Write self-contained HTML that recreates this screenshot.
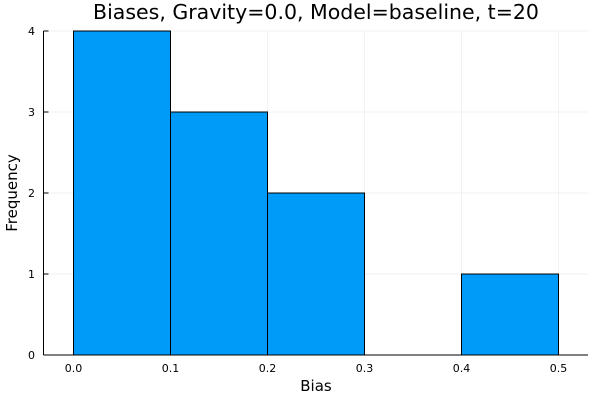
<!DOCTYPE html>
<html><head><meta charset="utf-8"><style>
body{margin:0;background:#fff}
svg{display:block;font-family:"DejaVu Sans","Liberation Sans",sans-serif}
</style></head><body>
<svg id="c" width="600" height="400">
<text x="316" y="19" font-size="20.5" text-anchor="middle" fill="#000">Biases, Gravity=0.0, Model=baseline, t=20</text>
<g id="grid"></g><g id="bars"></g><g id="axes"></g>
<text x="316" y="391" font-size="15" text-anchor="middle">Bias</text>
<text transform="translate(17,193) rotate(-90)" font-size="15" text-anchor="middle">Frequency</text>
</svg>
<script>
const binEdges=[0.0,0.1,0.2,0.3,0.4,0.5];
const counts=[4,3,2,0,1];
const xTicks=[0.0,0.1,0.2,0.3,0.4,0.5];
const xTickLabels=["0.0","0.1","0.2","0.3","0.4","0.5"];
const yTicks=[0,1,2,3,4];
const L=43.5,R=588,T=31,B=355;
const sx=v=>73.5+v*970;
const sy=v=>B-v*81;
const NS="http://www.w3.org/2000/svg";
function mk(p,t,a){const e=document.createElementNS(NS,t);for(const k in a)e.setAttribute(k,a[k]);p.appendChild(e);return e;}
const g=document.getElementById('grid'),b=document.getElementById('bars'),ax=document.getElementById('axes');
xTicks.forEach((v,i)=>{const l=mk(g,'line',{x1:sx(v),x2:sx(v),y1:T,y2:B,stroke:'#000','stroke-opacity':0.1,'stroke-width':0.5});

const tk=mk(ax,'line',{x1:sx(v),x2:sx(v),y1:B,y2:B-4,stroke:'#000','stroke-width':1});

const t=mk(ax,'text',{x:sx(v),y:372,'font-size':11,'text-anchor':'middle',fill:'#000'});t.textContent=xTickLabels[i];
});
yTicks.forEach(v=>{const l=mk(g,'line',{x1:L,x2:R,y1:sy(v),y2:sy(v),stroke:'#000','stroke-opacity':0.1,'stroke-width':0.5});

const tk=mk(ax,'line',{x1:L,x2:L+5,y1:sy(v),y2:sy(v),stroke:'#000','stroke-width':1});

const t=mk(ax,'text',{x:35,y:sy(v)+4,'font-size':11,'text-anchor':'end',fill:'#000'});t.textContent=v;
});
counts.forEach((c,i)=>{if(c<=0)return;const x0=sx(binEdges[i]),x1=sx(binEdges[i+1]);
const r=mk(b,'rect',{x:x0,y:sy(c),width:x1-x0,height:B-sy(c),fill:'#009af9',stroke:'#000','stroke-width':1});
});
const xa=mk(ax,'line',{x1:L,x2:R,y1:B,y2:B,stroke:'#000','stroke-width':1});

const ya=mk(ax,'line',{x1:L,x2:L,y1:T,y2:B,stroke:'#000','stroke-width':1});

</script>
</body></html>
